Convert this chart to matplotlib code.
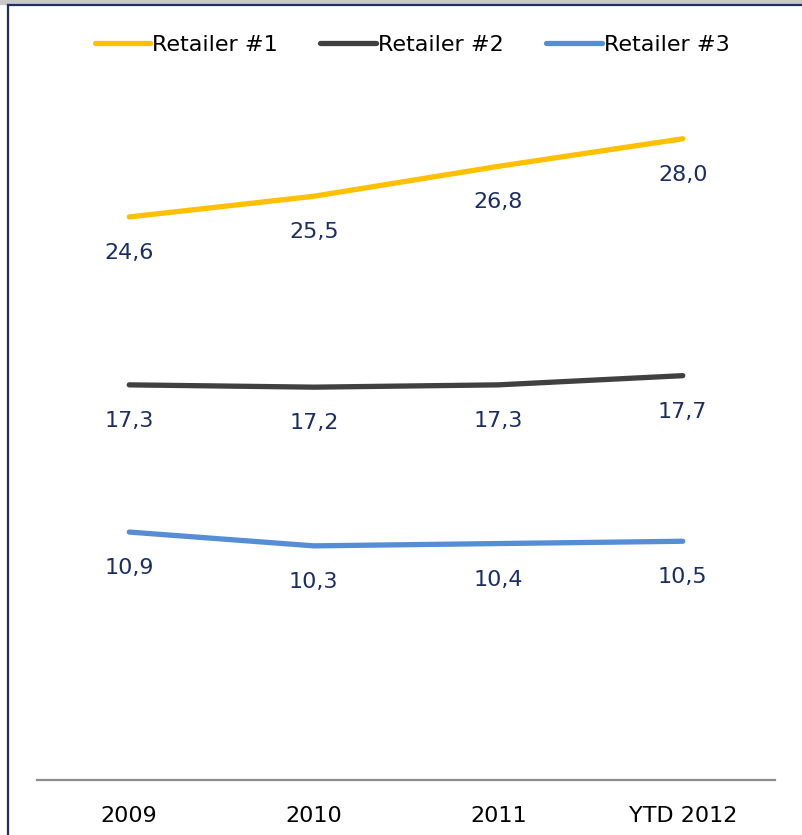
import matplotlib.pyplot as plt
from matplotlib.lines import Line2D
from matplotlib.patches import Rectangle

# Data
years = ["2009", "2010", "2011", "YTD 2012"]
retailer1 = [24.6, 25.5, 26.8, 28.0]
retailer2 = [17.3, 17.2, 17.3, 17.7]
retailer3 = [10.9, 10.3, 10.4, 10.5]
names = ["Retailer #1", "Retailer #2", "Retailer #3"]

colors = ["#FFC000", "#404040", "#558ED5"]
label_color = "#1A2E66"

W, H = 802, 835
fig = plt.figure(figsize=(W / 100, H / 100), dpi=100)
ax = fig.add_axes([37 / W, 55 / H, (775 - 37) / W, (780 - 21) / H])

x = list(range(len(years)))
for vals, name, c in zip([retailer1, retailer2, retailer3], names, colors):
    ax.plot(x, vals, color=c, lw=3.8, solid_capstyle="round", label=name)
    for xi, v in zip(x, vals):
        ax.annotate(f"{v:.1f}".replace(".", ","), (xi, v), xytext=(0, -26),
                    textcoords="offset points", ha="center", va="center",
                    fontsize=16, color=label_color)

ax.set_xlim(-0.5, 3.5)
ax.set_ylim(0.12, 33.12)
ax.set_xticks(x)
ax.set_xticklabels(years, fontsize=16)
ax.tick_params(axis="x", length=0, pad=19)
ax.set_yticks([])
for s in ["top", "right", "left"]:
    ax.spines[s].set_visible(False)
ax.spines["bottom"].set_color("#8C8C8C")
ax.spines["bottom"].set_linewidth(1.6)

fig.legend(loc="center", bbox_to_anchor=(0.514, 1 - 45 / H), ncol=3,
           frameon=False, fontsize=16, handlelength=2.5, handletextpad=0.1,
           columnspacing=1.9)

# frame around the chart
fig.patches.append(Rectangle((0, 1 - 4 / H), 1, 4 / H, transform=fig.transFigure,
                             color="#C8C8C8", zorder=0))
fig.lines.append(Line2D([8 / W, 1], [1 - 5 / H, 1 - 5 / H], transform=fig.transFigure,
                        color="#1F2F63", lw=1.6))
fig.lines.append(Line2D([8 / W, 8 / W], [0, 1 - 5 / H], transform=fig.transFigure,
                        color="#1F2F63", lw=1.6))

fig.savefig("out.png", dpi=100)
